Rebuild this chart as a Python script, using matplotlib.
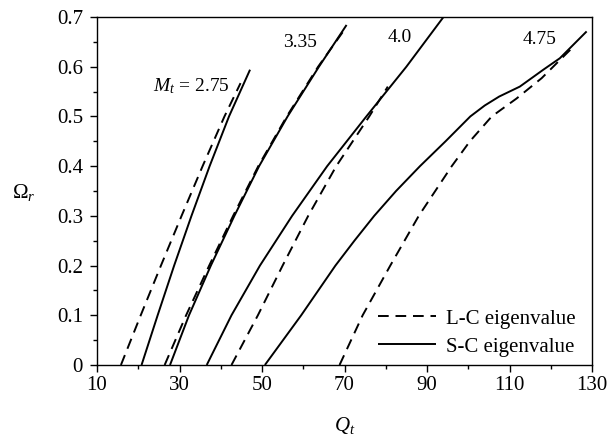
import matplotlib
matplotlib.use("Agg")
import matplotlib.pyplot as plt
from matplotlib.ticker import MultipleLocator, FixedLocator

plt.rcParams['font.family'] = ['Liberation Serif', 'DejaVu Serif']
plt.rcParams['mathtext.fontset'] = 'custom'
plt.rcParams['mathtext.rm'] = 'Liberation Serif'
plt.rcParams['mathtext.it'] = 'Liberation Serif:italic'
plt.rcParams['mathtext.bf'] = 'Liberation Serif:bold'

# ---- data ----
# M_t = 2.75
sc_275_q = [20.8, 24.7, 28.7, 32.9, 37.3, 42.0, 47.1]
sc_275_w = [0.0, 0.1, 0.2, 0.3, 0.4, 0.5, 0.594]
lc_275_q = [15.8, 20.6, 25.5, 30.5, 35.6, 40.9, 44.8]
lc_275_w = [0.0, 0.1, 0.2, 0.3, 0.4, 0.5, 0.567]
# M_t = 3.35
sc_335_q = [27.7, 32.3, 37.6, 43.3, 49.3, 56.2, 63.8, 70.5]
sc_335_w = [0.0, 0.1, 0.2, 0.3, 0.4, 0.5, 0.6, 0.684]
lc_335_q = [26.4, 31.6, 37.2, 43.0, 49.1, 56.0, 63.6, 69.6]
lc_335_w = [0.0, 0.1, 0.2, 0.3, 0.4, 0.5, 0.6, 0.67]
# M_t = 4.0
sc_40_q = [36.6, 42.6, 49.5, 57.3, 65.8, 75.3, 85.0, 94.0]
sc_40_w = [0.0, 0.1, 0.2, 0.3, 0.4, 0.5, 0.6, 0.7]
lc_40_q = [42.6, 49.0, 55.0, 61.2, 68.0, 76.0, 80.5]
lc_40_w = [0.0, 0.1, 0.2, 0.3, 0.4, 0.5, 0.56]
# M_t = 4.75
sc_475_q = [50.7, 59.5, 67.8, 72.4, 77.2, 82.5, 88.3, 94.5, 100.5, 104.0, 107.5,
            112.5, 118.2, 122.2, 128.7]
sc_475_w = [0.0, 0.1, 0.2, 0.25, 0.3, 0.35, 0.4, 0.45, 0.5, 0.522, 0.54,
            0.56, 0.594, 0.617, 0.671]
lc_475_q = [68.8, 74.4, 81.1, 88.0, 96.0, 100.4, 105.7, 111.7, 117.8, 123.5, 125.1]
lc_475_w = [0.0, 0.1, 0.2, 0.3, 0.4, 0.45, 0.5, 0.536, 0.577, 0.624, 0.637]

mach_labels = [r'$M_t$ = 2.75', '3.35', '4.0', '4.75']
label_q = [32.8, 59.3, 83.3, 117.4]
label_w = [0.561, 0.648, 0.658, 0.654]

x_ticks = [10, 30, 50, 70, 90, 110, 130]
y_ticks = [0.0, 0.1, 0.2, 0.3, 0.4, 0.5, 0.6, 0.7]
y_tick_labels = ['0', '0.1', '0.2', '0.3', '0.4', '0.5', '0.6', '0.7']

# ---- figure ----
fig = plt.figure(figsize=(6.08, 4.38), dpi=100)
ax = fig.add_axes([97/608, 1-365/438, 495/608, 348/438])

lw = 1.4
dash = (5.5, 3.5)
sc_sets = [(sc_275_q, sc_275_w), (sc_335_q, sc_335_w), (sc_40_q, sc_40_w), (sc_475_q, sc_475_w)]
lc_sets = [(lc_275_q, lc_275_w), (lc_335_q, lc_335_w), (lc_40_q, lc_40_w), (lc_475_q, lc_475_w)]
for i, (q, w) in enumerate(lc_sets):
    ax.plot(q, w, color='black', lw=lw, dashes=dash,
            label='L-C eigenvalue' if i == 0 else None)
for i, (q, w) in enumerate(sc_sets):
    ax.plot(q, w, color='black', lw=lw, solid_capstyle='butt', solid_joinstyle='round',
            label='S-C eigenvalue' if i == 0 else None)

for txt, q, w in zip(mach_labels, label_q, label_w):
    ax.text(q, w, txt, fontsize=14, ha='center', va='center')

ax.set_xlim(10, 130)
ax.set_ylim(0, 0.7)
ax.xaxis.set_major_locator(FixedLocator(x_ticks))
ax.xaxis.set_minor_locator(MultipleLocator(10))
ax.set_yticks(y_ticks)
ax.set_yticklabels(y_tick_labels)
ax.yaxis.set_minor_locator(MultipleLocator(0.05))
ax.tick_params(which='major', direction='out', length=5, width=1, labelsize=15)
ax.tick_params(axis='x', which='major', pad=3)
ax.tick_params(axis='y', which='major', pad=5)
ax.tick_params(which='minor', direction='out', length=3, width=1)
for s in ax.spines.values():
    s.set_linewidth(1.0)

ax.set_xlabel(r'$Q_t$', fontsize=15)
ax.xaxis.set_label_coords(0.5, -0.145)
ax.xaxis.label.set_va('top')
ax.set_ylabel(r'$\mathit{Ω}_r$', fontsize=15, rotation=0, ha='center', va='center')
ax.yaxis.set_label_coords(-0.148, 0.497)

leg = ax.legend(loc='lower right', frameon=False, fontsize=15,
                handlelength=2.75, handletextpad=0.48, labelspacing=0.4,
                borderaxespad=0.0, bbox_to_anchor=(0.983, 0.0))

fig.savefig('out.png', dpi=100)
